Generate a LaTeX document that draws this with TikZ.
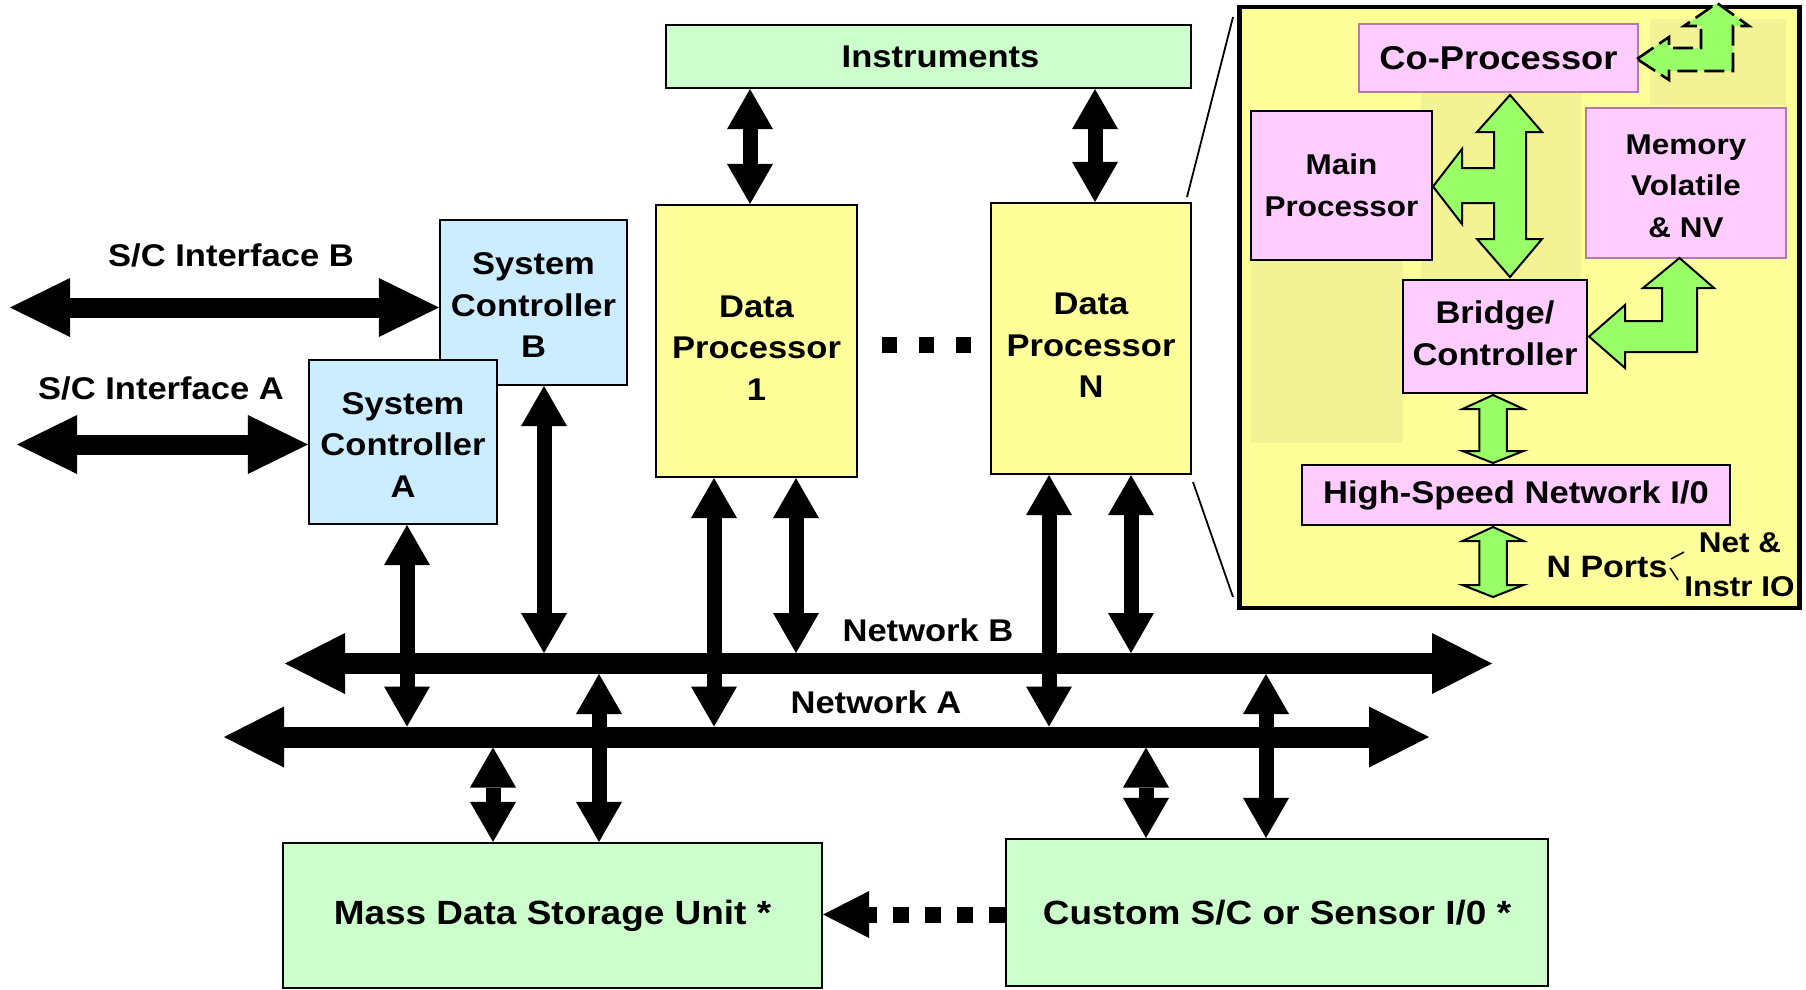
\documentclass[tikz,border=0pt]{standalone}
\usepackage{fontspec}
\setmainfont{Liberation Sans}[FakeStretch=1.1]
\usetikzlibrary{arrows.meta,calc}

\definecolor{boxyellow}{HTML}{FFFF99}
\definecolor{boxgreen}{HTML}{CCFFCC}
\definecolor{boxblue}{HTML}{CCECFF}
\definecolor{boxpink}{HTML}{FFCCFF}
\definecolor{pinkedge}{HTML}{B47AAA}
\definecolor{arrowgreen}{HTML}{99FF66}
\definecolor{shadeyellow}{HTML}{F3F396}

\tikzset{
  txtnorm/.style={font=\fontsize{31.4}{41.5}\selectfont\bfseries},
  txtbig/.style={font=\fontsize{33.6}{41.5}\selectfont\bfseries},
  txtco/.style={font=\fontsize{33}{41.5}\selectfont\bfseries},
  txtsmall/.style={font=\fontsize{28.6}{41.5}\selectfont\bfseries},
  txtports/.style={font=\fontsize{30.9}{41.5}\selectfont\bfseries},
  block/.style={draw=black, line width=2.2pt, inner sep=0pt, align=center, txtnorm},
  yblock/.style={block, fill=boxyellow},
  gblock/.style={block, fill=boxgreen},
  bblock/.style={block, fill=boxblue},
  pblock/.style={block, fill=boxpink, line width=2.5pt},
  lbl/.style={inner sep=0pt, align=center, txtnorm},
  busline/.style={line width=21pt,
    {Triangle[length=60pt,width=61pt,line width=0pt]}-{Triangle[length=60pt,width=61pt,line width=0pt]}},
  ifline/.style={line width=20pt,
    {Triangle[length=60pt,width=59pt,line width=0pt]}-{Triangle[length=60pt,width=59pt,line width=0pt]}},
  tapline/.style={line width=15pt,
    {Triangle[length=40pt,width=46pt,line width=0pt]}-{Triangle[length=40pt,width=46pt,line width=0pt]}},
  dotline/.style={line width=16pt, dash pattern=on 16pt off 16pt,
    -{Triangle[length=46pt,width=47pt,line width=0pt]}},
  garrow/.style={fill=arrowgreen, draw=black, line width=2pt, line join=miter},
  gdashed/.style={garrow, line width=2.6pt, dash pattern=on 20pt off 7pt},
  zoomline/.style={draw=black, line width=1.8pt}
}

% vertical green double arrow with flat heads: x, top tip y, bottom tip y
\newcommand{\gvdouble}[3]{%
  \draw[garrow] (#1,#2) -- (#1+30.5,#2+14) -- (#1+13.75,#2+14) -- (#1+13.75,#3-12)
    -- (#1+30.5,#3-12) -- (#1,#3) -- (#1-30.5,#3-12) -- (#1-13.75,#3-12)
    -- (#1-13.75,#2+14) -- (#1-30.5,#2+14) -- cycle;}

\begin{document}
\begin{tikzpicture}[x=1pt,y=-1pt]
\useasboundingbox (0,0) rectangle (1806,989);

% ---------------- processor detail panel ----------------
\node[draw=black, line width=4.5pt, fill=boxyellow, inner sep=0pt,
      minimum width=560pt, minimum height=601pt] (inset) at (1519.5,307.5) {};
\fill[shadeyellow] (1650,19) rectangle (1786,105);
\fill[shadeyellow] (1421,92) rectangle (1581,280);
\fill[shadeyellow] (1251,260) rectangle (1403,443);

\node[pblock, draw=pinkedge, txtco, minimum width=279pt, minimum height=68pt] (cop) at (1498.5,58) {Co-Processor};
\node[pblock, txtsmall, minimum width=181pt, minimum height=149pt] (mainp) at (1341.5,185.5) {Main\\Processor};
\node[pblock, draw=pinkedge, txtsmall, minimum width=200pt, minimum height=150pt,
      label={[lbl, txtsmall, yshift=-3pt]center:Memory\\Volatile\\\& NV}] (mem) at (1686,183) {};
\node[pblock, minimum width=184pt, minimum height=113pt,
      label={[lbl, yshift=3pt]center:Bridge/\\Controller}] (bridge) at (1495,336.5) {};
\node[pblock, minimum width=428pt, minimum height=60pt] (hsn) at (1516,495) {High-Speed Network I/0};

% external link of the co-processor (dashed)
\draw[gdashed] (1637,59) -- (1669,37) -- (1669,48) -- (1701,48) -- (1701,26) -- (1684,26)
  -- (1717,3) -- (1749,26) -- (1733,26) -- (1733,71) -- (1669,71) -- (1669,80) -- cycle;

% co-processor / main processor / bridge junction
\draw[garrow] (1510,95) -- (1542,132) -- (1526,132) -- (1526,239) -- (1542,239) -- (1510,277)
  -- (1477,239) -- (1494,239) -- (1494,203) -- (1462,203) -- (1462,224) -- (1433,186.5)
  -- (1462,149) -- (1462,168) -- (1494,168) -- (1494,132) -- (1477,132) -- cycle;

% bridge to memory
\draw[garrow] (1589,336.5) -- (1625,305) -- (1625,321) -- (1662,321) -- (1662,288) -- (1643,288)
  -- (1679.5,258) -- (1714,288) -- (1697,288) -- (1697,352) -- (1625,352) -- (1625,368) -- cycle;

% bridge to network interface, network interface to ports
\gvdouble{1493}{395}{463}
\gvdouble{1493}{527}{597}

\node[lbl, txtports] (nports) at (1607,567) {N Ports};
\node[lbl, txtsmall] (netio) at (1740,543) {Net \&};
\node[lbl, txtsmall] (instrio) at (1739.5,587) {Instr IO};
\draw[line width=1.5pt] (1671,559) -- (1684,552);
\draw[line width=1.5pt] (1670,568) -- (1678,580);

% ---------------- main system ----------------
\node[gblock, minimum width=525pt, minimum height=63pt,
      label={[lbl, xshift=12pt]center:Instruments}] (instr) at (928.5,56.5) {};
\node[yblock, minimum width=201pt, minimum height=272pt,
      label={[lbl, yshift=-7pt]center:Data\\Processor\\1}] (dp1) at (756.5,341) {};
\node[yblock, minimum width=200pt, minimum height=271pt,
      label={[lbl, yshift=-7pt]center:Data\\Processor\\N}] (dpn) at (1091,338.5) {};
\node[bblock, minimum width=187pt, minimum height=165pt,
      label={[lbl, yshift=-3pt]center:System\\Controller\\B}] (scb) at (533.5,302.5) {};
\node[bblock, minimum width=188pt, minimum height=164pt,
      label={[lbl, yshift=-3pt]center:System\\Controller\\A}] (sca) at (403,442) {};
\node[gblock, txtbig, minimum width=539pt, minimum height=145pt] (mass) at (552.5,915.5) {Mass Data Storage Unit *};
\node[gblock, txtbig, minimum width=542pt, minimum height=147pt] (custom) at (1277,912.5) {Custom S/C or Sensor I/0 *};

% more data processors in between
\foreach \cx in {889,926.5,963.5}
  \fill (\cx-7.5,337) rectangle (\cx+7.5,353);

% links from data processor N to its detail panel
\draw[zoomline] (1187,197) -- (1233,17);
\draw[zoomline] (1193,482) -- (1233,597);

% spacecraft interfaces
\coordinate (ifB) at (10,307.5);
\coordinate (ifA) at (17,444.5);
\draw[ifline] (ifB) -- (scb.west |- ifB);
\draw[ifline] (ifA) -- (sca.west |- ifA);
\node[lbl] (ifBlbl) at (231,255) {S/C Interface B};
\node[lbl] (ifAlbl) at (161,388) {S/C Interface A};

% networks
\coordinate (nbW) at (285,663.5);
\coordinate (nbE) at (1492,663.5);
\coordinate (naW) at (224,737);
\coordinate (naE) at (1429,737);
\draw[busline] (nbW) -- (nbE);
\draw[busline] (naW) -- (naE);
\node[lbl] (nblbl) at (928,630) {Network B};
\node[lbl] (nalbl) at (876,702) {Network A};

% edges of the network bars
\coordinate (nbTop) at (0,653);
\coordinate (nbBot) at (0,674);
\coordinate (naTop) at (0,726.5);
\coordinate (naBot) at (0,747.5);

% tap columns
\coordinate (xI1) at (750,0);
\coordinate (xIN) at (1095,0);
\coordinate (xSA) at (407,0);
\coordinate (xSB) at (544,0);
\coordinate (xP1a) at (714,0);
\coordinate (xP1b) at (796,0);
\coordinate (xPNa) at (1049,0);
\coordinate (xPNb) at (1131,0);
\coordinate (xMa) at (493,0);
\coordinate (xMb) at (599,0);
\coordinate (xCa) at (1146,0);
\coordinate (xCb) at (1266,0);

\draw[tapline] (instr.south -| xI1) -- (dp1.north -| xI1);
\draw[tapline] (instr.south -| xIN) -- (dpn.north -| xIN);
\draw[tapline] (sca.south -| xSA) -- (naTop -| xSA);
\draw[tapline] (scb.south -| xSB) -- (nbTop -| xSB);
\draw[tapline] (dp1.south -| xP1a) -- (naTop -| xP1a);
\draw[tapline] (dp1.south -| xP1b) -- (nbTop -| xP1b);
\draw[tapline] (dpn.south -| xPNa) -- (naTop -| xPNa);
\draw[tapline] (dpn.south -| xPNb) -- (nbTop -| xPNb);
\draw[tapline] (naBot -| xMa) -- (mass.north -| xMa);
\draw[tapline] (nbBot -| xMb) -- (mass.north -| xMb);
\draw[tapline] (naBot -| xCa) -- (custom.north -| xCa);
\draw[tapline] (nbBot -| xCb) -- (custom.north -| xCb);

% sensor data straight into storage
\coordinate (dotY) at (0,914.5);
\draw[dotline] (custom.west |- dotY) -- (mass.east |- dotY);

\end{tikzpicture}
\end{document}
